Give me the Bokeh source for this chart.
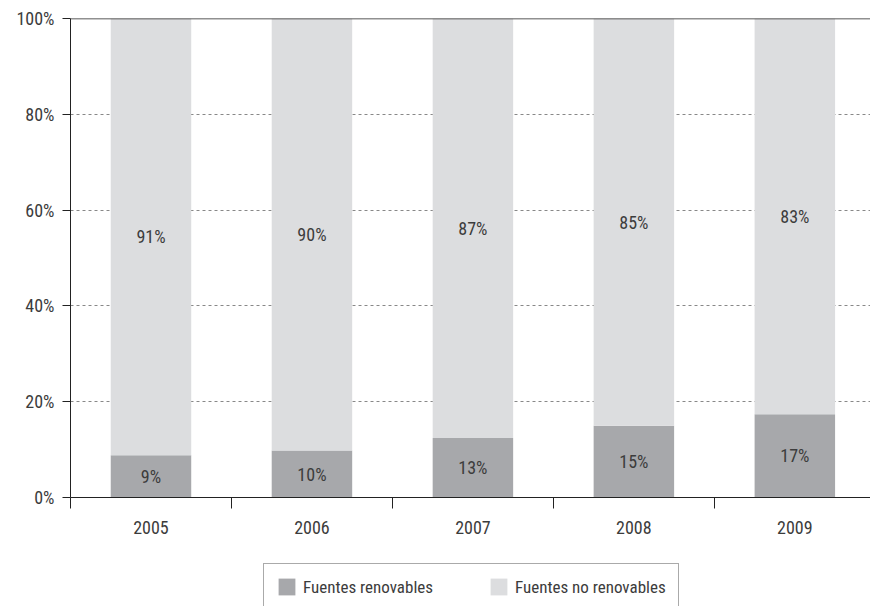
from bokeh.plotting import figure
from bokeh.layouts import column
from bokeh.models import (ColumnDataSource, Range1d, FixedTicker, Legend, LegendItem,
                          Span, PrintfTickFormatter)
from bokeh.core.properties import value
from bokeh.embed import file_html
from bokeh.resources import INLINE

years = ["2005", "2006", "2007", "2008", "2009"]
renovables = [8.8, 9.8, 12.4, 15.0, 17.4]
no_renovables = [91.2, 90.2, 87.6, 85.0, 82.6]
labels_renov = ["9%", "10%", "13%", "15%", "17%"]
labels_no_renov = ["91%", "90%", "87%", "85%", "83%"]
series_names = ["Fuentes renovables", "Fuentes no renovables"]
y_ticks = [0, 20, 40, 60, 80, 100]

FONT = "'Roboto Condensed', 'DejaVu Sans Condensed', 'Liberation Sans'"
TXT = "#3c3c3c"
COLORS = ["#a7a8ab", "#dcdddf"]

xpos = [i + 0.5 for i in range(len(years))]
src = ColumnDataSource(dict(
    x=xpos,
    ren=renovables,
    noren=no_renovables,
    ren_mid=[r / 2 for r in renovables],
    noren_mid=[r + n / 2 for r, n in zip(renovables, no_renovables)],
    lab_ren=labels_renov,
    lab_noren=labels_no_renov,
))

p = figure(width=870, height=545, output_backend="svg", toolbar_location=None,
           x_range=Range1d(0, 4.97), y_range=Range1d(0, 100),
           min_border_left=70, min_border_right=0, min_border_top=18, min_border_bottom=48)
p.outline_line_color = None
p.background_fill_color = "white"
p.border_fill_color = "white"

rs = p.vbar_stack(["ren", "noren"], x="x", width=0.5, source=src,
                  color=COLORS, line_color=None)

p.text(x="x", y="ren_mid", text="lab_ren", source=src, text_align="center",
       text_baseline="middle", text_font=value(FONT), text_font_size="18px", text_color=TXT)
p.text(x="x", y="noren_mid", text="lab_noren", source=src, text_align="center",
       text_baseline="middle", text_font=value(FONT), text_font_size="18px", text_color=TXT)

p.add_layout(Span(location=100, dimension="width", line_color="#222222", line_width=1.6))

ya = p.yaxis[0]
ya.ticker = FixedTicker(ticks=y_ticks, minor_ticks=[])
ya.formatter = PrintfTickFormatter(format="%d%%")
ya.axis_line_color = "#222222"
ya.major_tick_line_color = "#222222"
ya.major_tick_out = 8
ya.major_tick_in = 0
ya.major_label_text_font = FONT
ya.major_label_text_font_size = "18px"
ya.major_label_text_color = TXT
ya.major_label_standoff = 8

xa = p.xaxis[0]
xa.ticker = FixedTicker(ticks=xpos, minor_ticks=[0, 1, 2, 3, 4])
xa.major_label_overrides = {x: y for x, y in zip(xpos, years)}
xa.axis_line_color = "#222222"
xa.major_tick_line_color = None
xa.minor_tick_line_color = "#222222"
xa.minor_tick_out = 11
xa.minor_tick_in = 0
xa.major_label_text_font = FONT
xa.major_label_text_font_size = "18px"
xa.major_label_text_color = TXT
xa.major_label_standoff = 12

p.xgrid.visible = False
p.ygrid.ticker = FixedTicker(ticks=[20, 40, 60, 80])
p.ygrid.grid_line_color = "#888888"
p.ygrid.grid_line_dash = "3 3"
p.ygrid.grid_line_width = 1

# legend strip
q = figure(width=870, height=61, output_backend="svg", toolbar_location=None,
           x_axis_type=None, y_axis_type=None,
           x_range=Range1d(0, 1), y_range=Range1d(0, 1),
           min_border_left=0, min_border_right=0, min_border_top=0, min_border_bottom=0)
q.outline_line_color = None
q.grid.visible = False
q.background_fill_color = "white"
q.border_fill_color = "white"

items = []
for name, col in zip(series_names, COLORS):
    # zero-area proxy glyph: only used to draw the legend swatch
    r = q.vbar(x=[0], top=[0], bottom=[0], width=0, fill_color=col, line_color=None)
    items.append(LegendItem(label=name, renderers=[r]))

legend = Legend(items=items, location=(193, -4), orientation="horizontal",
                glyph_width=21, glyph_height=21, label_standoff=6, spacing=55,
                padding=12, margin=0,
                label_text_font=FONT, label_text_font_size="17px", label_text_color=TXT,
                border_line_color="#555555", border_line_width=1.2,
                background_fill_color="white", background_fill_alpha=1.0)
q.add_layout(legend, "center")

layout = column(p, q, spacing=0)
open("out.html", "w").write(file_html(layout, INLINE))
